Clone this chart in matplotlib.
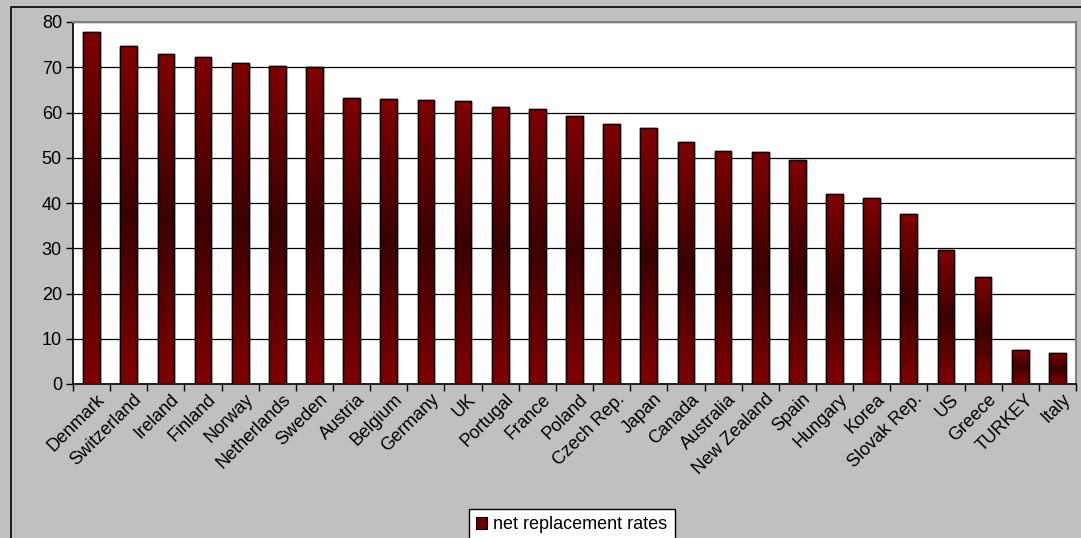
import numpy as np
import matplotlib
matplotlib.use("Agg")
import matplotlib.pyplot as plt
from matplotlib.colors import LinearSegmentedColormap
from matplotlib.patches import Rectangle

countries = ["Denmark", "Switzerland", "Ireland", "Finland", "Norway", "Netherlands",
             "Sweden", "Austria", "Belgium", "Germany", "UK", "Portugal", "France",
             "Poland", "Czech Rep.", "Japan", "Canada", "Australia", "New Zealand",
             "Spain", "Hungary", "Korea", "Slovak Rep.", "US", "Greece", "TURKEY", "Italy"]
rates = [77.9, 74.8, 72.9, 72.2, 71.0, 70.3, 70.0, 63.1, 62.9, 62.8, 62.5, 61.3, 60.7,
         59.2, 57.4, 56.5, 53.4, 51.6, 51.3, 49.5, 42.0, 41.0, 37.5, 29.6, 23.7, 7.5, 6.8]
y_ticks = [0, 10, 20, 30, 40, 50, 60, 70, 80]
series_name = "net replacement rates"

plt.rcParams["font.family"] = ["Liberation Sans", "DejaVu Sans"]
FS = 13

W, H = 1081, 538
fig = plt.figure(figsize=(W / 100, H / 100), dpi=100)
fig.patch.set_facecolor("#C0C0C0")

# outer chart border (top and left edges fall inside the canvas)
fig.add_artist(Rectangle((11 / W, -0.1), 1.2, 1.1 - 7 / H, transform=fig.transFigure,
                         fill=False, edgecolor="black", linewidth=1.2))

left, right, top, bottom = 73, 1076, 22, 384
ax = fig.add_axes([left / W, 1 - bottom / H, (right - left) / W, (bottom - top) / H])
ax.set_facecolor("white")

n = len(countries)
x = np.arange(n)
bars = ax.bar(x, rates, width=0.45, color="#800000", edgecolor="black",
              linewidth=1.0, zorder=3)

# vertical gradient inside each bar: maroon at both ends, dark in the middle
cmap = LinearSegmentedColormap.from_list("maroon", ["#800000", "#3a0000", "#800000"])
grad = np.linspace(0, 1, 256).reshape(-1, 1)
for b in bars:
    x0, w, h = b.get_x(), b.get_width(), b.get_height()
    im = ax.imshow(grad, cmap=cmap, aspect="auto", extent=(x0, x0 + w, 0, h),
                   origin="lower", zorder=3.5, interpolation="bilinear")
    im.set_clip_path(b)
    ax.add_patch(Rectangle((x0, 0), w, h, fill=False, edgecolor="black",
                           linewidth=1.0, zorder=4))

ax.set_xlim(-0.5, n - 0.5)
ax.set_ylim(0, 80)
ax.set_yticks(y_ticks)
ax.set_yticklabels([str(t) for t in y_ticks], fontsize=FS)
ax.yaxis.grid(True, color="black", linewidth=0.9, zorder=1)
ax.set_axisbelow(True)

ax.set_xticks(np.arange(-0.5, n, 1.0))
ax.set_xticklabels([])
ax.tick_params(axis="x", length=5, direction="out", color="black", width=1)
ax.tick_params(axis="y", length=5, direction="out", color="black", width=1, pad=3)
for i, name in enumerate(countries):
    ax.text(i + 0.12, -1.5, name, rotation=45, ha="right", va="top",
            rotation_mode="anchor", fontsize=FS)

for s in ["left", "bottom"]:
    ax.spines[s].set_color("black")
    ax.spines[s].set_linewidth(1.2)
for s in ["top", "right"]:
    ax.spines[s].set_color("#808080")
    ax.spines[s].set_linewidth(1.5)

# legend
leg_handle = Rectangle((0, 0), 1, 1, facecolor="#6a0000", edgecolor="black", linewidth=0.8)
leg = fig.legend([leg_handle], [series_name], loc="upper left",
                 bbox_to_anchor=(469 / W, 1 - 509 / H), fontsize=FS, frameon=True,
                 fancybox=False, edgecolor="black", framealpha=1,
                 handlelength=0.6, handleheight=0.6, handletextpad=0.35,
                 borderpad=0.4, borderaxespad=0)
leg.get_frame().set_linewidth(1.0)

fig.savefig("out.png", dpi=100, facecolor=fig.get_facecolor())
